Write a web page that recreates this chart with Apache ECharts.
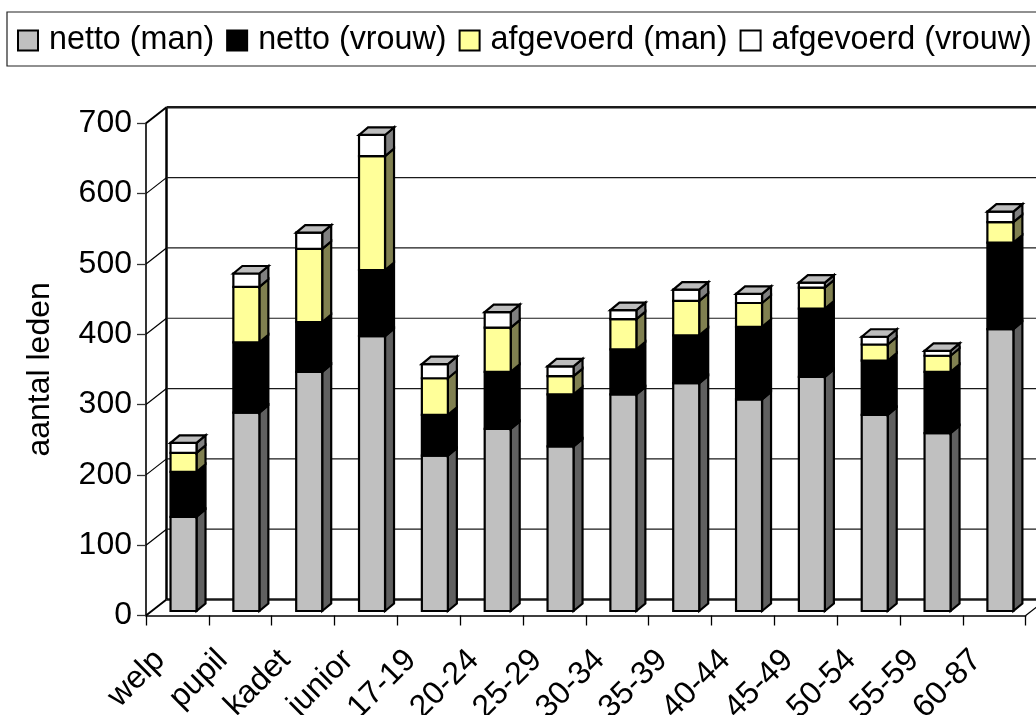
<!DOCTYPE html>
<html><head><meta charset="utf-8">
<style>html,body{margin:0;padding:0;background:#fff;overflow:hidden}#c{width:1036px;height:715px}</style>
<script src="https://cdn.jsdelivr.net/npm/echarts@6/dist/echarts.min.js"></script>
</head><body><div id="c"></div>
<script>
const categories = ['welp','pupil','kadet','junior','17-19','20-24','25-29','30-34','35-39','40-44','45-49','50-54','55-59','60-87'];
const nettoMan = [134,282,340,391,221,259,234,308,324,301,333,279,253,401];
const nettoVrouw = [64,100,71,94,58,81,74,64,68,103,97,77,87,123];
const afgevoerdMan = [27,79,104,162,52,63,26,43,49,34,30,23,23,29];
const afgevoerdVrouw = [14,19,23,30,20,22,14,13,16,13,7,11,7,15];
const yTicks = [0,100,200,300,400,500,600,700];
const seriesNames = ['netto (man)','netto (vrouw)','afgevoerd (man)','afgevoerd (vrouw)'];

const DX = 20.5, DY = 16;           // wall depth
const BW = 26, BDX = 9, BDY = 7.5;  // bar width and bar depth
const BAR_SHIFT = -6.9;             // front-left of bar vs category centre
const BASE_SHIFT = -4.5;            // bar foot above the front floor edge

const faces = [
  {front:'#c0c0c0', side:'#606060', top:'#a0a0a0'},
  {front:'#000000', side:'#000000', top:'#000000'},
  {front:'#ffff99', side:'#808050', top:'#c0c080'},
  {front:'#ffffff', side:'#808080', top:'#bdbdbd'}
];
const stroke = {stroke:'#000', lineWidth:2.2, lineJoin:'miter'};

function poly(points, fill){
  return {type:'polygon', shape:{points}, style:Object.assign({fill}, stroke)};
}
function stackItem(face, isTop){
  return function(params, api){
    const i = api.value(0), lo = api.value(1), hi = api.value(2);
    const pl = api.coord([i, lo]), ph = api.coord([i, hi]);
    const x = pl[0] + BAR_SHIFT, x2 = x + BW;
    const y0 = pl[1] + BASE_SHIFT, y1 = ph[1] + BASE_SHIFT;
    const kids = [
      poly([[x2,y0],[x2+BDX,y0-BDY],[x2+BDX,y1-BDY],[x2,y1]], face.side),
      poly([[x,y0],[x2,y0],[x2,y1],[x,y1]], face.front)
    ];
    if (isTop) kids.push(poly([[x,y1],[x+BDX,y1-BDY],[x2+BDX,y1-BDY],[x2,y1]], face.top));
    return {type:'group', children:kids};
  };
}
function frameItem(params, api){
  const v = api.value(0);
  const p = api.coord([0, v]);
  const cs = params.coordSys;
  const x0 = cs.x, x1 = cs.x + cs.width + DX + 40;
  const kids = [];
  const grey = {stroke:'#1a1a1a', lineWidth: (v===0||v===700) ? 2.4 : 1.2};
  kids.push({type:'line', shape:{x1:x0, y1:p[1], x2:x0+DX, y2:p[1]-DY}, style:{stroke:'#000', lineWidth:(v===0||v===700)?2:1.2}});
  kids.push({type:'line', shape:{x1:x0+DX, y1:p[1]-DY, x2:x1, y2:p[1]-DY}, style:grey});
  if (v === 0) {
    kids.push({type:'line', shape:{x1:x0+DX, y1:cs.y+cs.height-DY, x2:x0+DX, y2:cs.y-DY}, style:{stroke:'#000',lineWidth:2.5}});
    kids.push({type:'line', shape:{x1:cs.x+cs.width, y1:p[1], x2:cs.x+cs.width+DX, y2:p[1]-DY}, style:{stroke:'#000',lineWidth:1.2}});
  }
  return {type:'group', children:kids};
}

let running = categories.map(()=>0);
const stacks = [nettoMan, nettoVrouw, afgevoerdMan, afgevoerdVrouw].map((vals, s) => {
  const rows = vals.map((v,i)=>{ const r=[i, running[i], running[i]+v]; running[i]+=v; return r; });
  return {
    name: seriesNames[s], type:'custom', clip:false, z:3,
    renderItem: stackItem(faces[s], s===3),
    encode:{x:0, y:[1,2]},
    itemStyle:{color:faces[s].front, borderColor:'#000', borderWidth:2},
    data: rows, silent:true
  };
});
const frame = {
  type:'custom', clip:false, z:1, silent:true,
  renderItem: frameItem,
  encode:{y:0},
  data: yTicks.map(v=>[v])
};

const chart = echarts.init(document.getElementById('c'), null, {renderer:'canvas'});
const FONT = '"Liberation Sans", Arial, sans-serif';
chart.setOption({
  animation:false,
  backgroundColor:'#fff',
  textStyle:{fontFamily:FONT, color:'#000'},
  legend:{
    left:7, top:12, width:1100, padding:[12.5,10,9.5,10], itemGap:12, itemWidth:20, itemHeight:20,
    icon:'rect', borderColor:'#222', borderWidth:1.2, backgroundColor:'#fff',
    data:seriesNames,
    selectedMode:false,
    textStyle:{fontFamily:FONT, fontSize:32.3, color:'#000', padding:[0,0,0,6]}
  },
  grid:{left:146, top:123.3, width:879.7, height:492.2, containLabel:false, outerBoundsMode:'none'},
  xAxis:{
    type:'category', data:categories, boundaryGap:true,
    axisLine:{lineStyle:{color:'#000',width:1.5}},
    axisTick:{show:true, length:10, alignWithLabel:false, lineStyle:{color:'#000',width:1.3}},
    axisLabel:{interval:0, rotate:45, fontFamily:FONT, fontSize:32, color:'#000', margin:22, padding:[0,25,0,0]},
    splitLine:{show:false}
  },
  yAxis:{
    type:'value', min:0, max:700, interval:100,
    name:'aantal leden', nameLocation:'middle', nameRotate:90, nameGap:90,
    nameTextStyle:{fontFamily:FONT, fontSize:32, color:'#000'},
    axisLine:{show:true, lineStyle:{color:'#000',width:1.6}},
    axisTick:{show:true, length:9, lineStyle:{color:'#333',width:1.3}},
    axisLabel:{fontFamily:FONT, fontSize:32, color:'#000', margin:14},
    splitLine:{show:false}
  },
  series:[frame].concat(stacks)
});
</script></body></html>
